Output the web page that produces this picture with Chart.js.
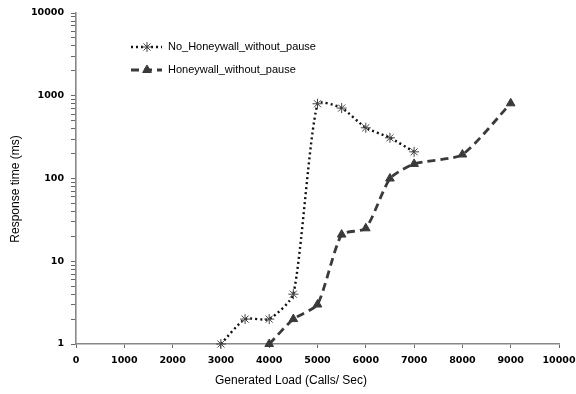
<!DOCTYPE html>
<html>
<head>
<meta charset="utf-8">
<script src="https://cdn.jsdelivr.net/npm/chart.js@4/dist/chart.umd.min.js"></script>
<style>
html,body{margin:0;padding:0;background:#fff;}
#wrap{width:576px;height:394px;position:relative;}
</style>
</head>
<body>
<div id="wrap"><canvas id="c" width="576" height="394"></canvas></div>
<script>
const seriesNames = ['No_Honeywall_without_pause', 'Honeywall_without_pause'];
const noHwLoad = [3000, 3500, 4000, 4500, 5000, 5500, 6000, 6500, 7000];
const noHwResp = [1, 2, 2, 4, 800, 710, 410, 310, 210];
const hwLoad = [4000, 4500, 5000, 5500, 6000, 6500, 7000, 8000, 9000];
const hwResp = [1, 2, 3, 21, 25, 100, 150, 195, 810];
const xTickValues = [0, 1000, 2000, 3000, 4000, 5000, 6000, 7000, 8000, 9000, 10000];
const yMajorTicks = [1, 10, 100, 1000, 10000];
const xTitle = 'Generated Load (Calls/ Sec)';
const yTitle = 'Response time (ms)';

const toPts = (xs, ys) => xs.map((x, i) => ({x: x, y: ys[i]}));

const legendPlugin = {
  id: 'insideLegend',
  afterDraw(chart) {
    const ctx = chart.ctx;
    const rows = [
      {y: 47, ds: chart.data.datasets[0]},
      {y: 70, ds: chart.data.datasets[1]}
    ];
    rows.forEach(r => {
      const ds = r.ds;
      ctx.save();
      ctx.strokeStyle = ds.borderColor;
      ctx.lineWidth = ds.borderWidth;
      ctx.setLineDash(ds.borderDash);
      ctx.beginPath();
      ctx.moveTo(131, r.y);
      ctx.lineTo(162, r.y);
      ctx.stroke();
      ctx.setLineDash([]);
      ctx.fillStyle = ds.pointBackgroundColor;
      ctx.strokeStyle = ds.pointBorderColor;
      ctx.lineWidth = ds.pointBorderWidth;
      Chart.helpers.drawPoint(ctx, {pointStyle: ds.pointStyle, radius: ds.pointRadius, borderWidth: ds.pointBorderWidth, rotation: 0}, 147, r.y);
      ctx.fillStyle = '#000';
      ctx.font = '11px "Liberation Sans", Arial, sans-serif';
      ctx.textBaseline = 'middle';
      ctx.textAlign = 'left';
      ctx.fillText(ds.label, 168, r.y);
      ctx.restore();
    });
  }
};

const axisTitlePlugin = {
  id: 'axisTitles',
  afterDraw(chart) {
    const ctx = chart.ctx;
    ctx.save();
    ctx.fillStyle = '#000';
    ctx.font = '12px "Liberation Sans", Arial, sans-serif';
    ctx.textAlign = 'center';
    ctx.textBaseline = 'middle';
    ctx.fillText(xTitle, 291, 381);
    ctx.translate(16, 189);
    ctx.rotate(-Math.PI / 2);
    ctx.fillText(yTitle, 0, 0);
    ctx.restore();
  }
};

const tickFont = {family: '"DejaVu Sans", Verdana, sans-serif', size: 9.5, weight: 'bold'};

new Chart(document.getElementById('c'), {
  type: 'line',
  data: {
    datasets: [
      {
        label: seriesNames[0],
        data: toPts(noHwLoad, noHwResp),
        borderColor: '#111',
        borderWidth: 2.4,
        borderDash: [2, 3],
        tension: 0.2,
        fill: false,
        pointStyle: 'star',
        pointRadius: 5,
        pointBorderWidth: 1,
        pointBorderColor: '#444',
        pointBackgroundColor: '#444',
        clip: false
      },
      {
        label: seriesNames[1],
        data: toPts(hwLoad, hwResp),
        borderColor: '#3a3a3a',
        borderWidth: 2.8,
        borderDash: [8, 5],
        tension: 0.2,
        fill: false,
        pointStyle: 'triangle',
        pointRadius: 5,
        pointBorderWidth: 1,
        pointBorderColor: '#3a3a3a',
        pointBackgroundColor: '#3a3a3a',
        clip: false
      }
    ]
  },
  plugins: [legendPlugin, axisTitlePlugin],
  options: {
    responsive: false,
    animation: false,
    events: [],
    layout: {padding: {top: 13, right: 0, left: 0, bottom: 0}},
    plugins: {legend: {display: false}, tooltip: {enabled: false}},
    scales: {
      x: {
        type: 'linear',
        min: 0,
        max: 10000,
        afterBuildTicks: (s) => { s.ticks = xTickValues.map(v => ({value: v})); },
        afterFit: (s) => { s.height = 50; s.paddingRight = 17; s.paddingLeft = 0; },
        border: {display: true, color: '#888', width: 1.6},
        grid: {drawOnChartArea: false, drawTicks: true, tickLength: 4, color: '#666'},
        ticks: {color: '#000', font: tickFont, padding: 7, maxRotation: 0, callback: (v) => String(v)},
        title: {display: false}
      },
      y: {
        type: 'logarithmic',
        min: 1,
        max: 10000,
        afterBuildTicks: (s) => {
          const t = [];
          for (let d = 1; d < 10000; d *= 10) {
            for (let m = 1; m < 10; m++) t.push({value: m * d, major: m === 1});
          }
          t.push({value: 10000, major: true});
          s.ticks = t;
        },
        afterFit: (s) => { s.width = 76; },
        border: {display: true, color: '#888', width: 1.6},
        grid: {drawOnChartArea: false, drawTicks: true, tickLength: 5, color: '#666'},
        ticks: {
          color: '#000',
          font: tickFont,
          padding: 7,
          autoSkip: false,
          callback: (v) => (yMajorTicks.includes(v) ? String(v) : '')
        },
        title: {display: false}
      }
    }
  }
});
</script>
</body>
</html>
